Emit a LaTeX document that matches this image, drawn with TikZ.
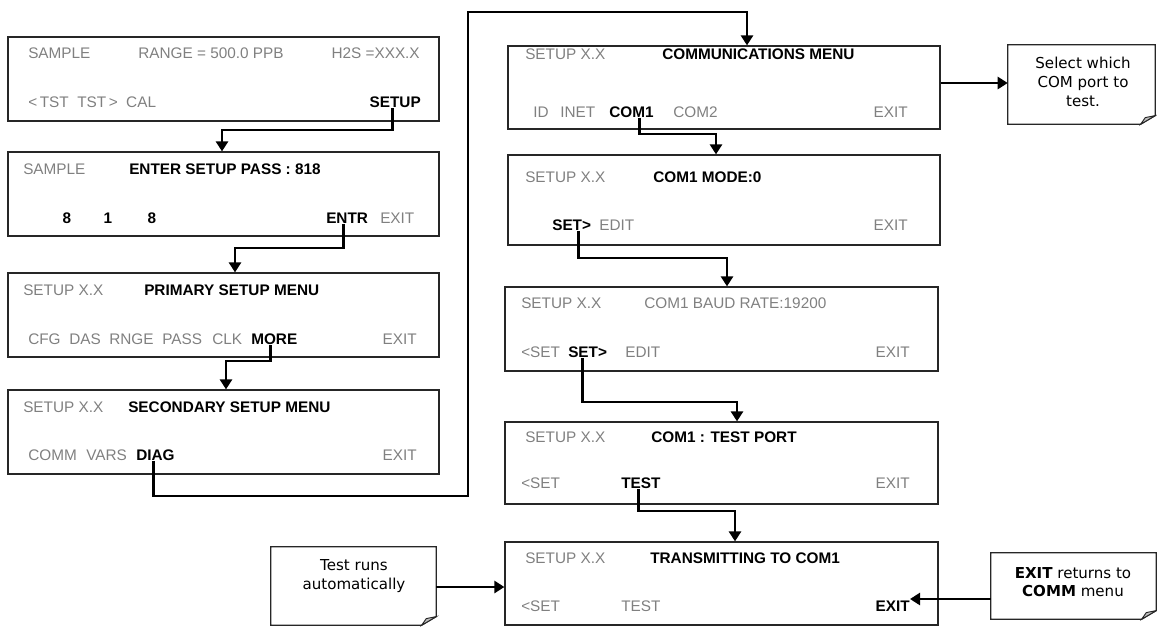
\documentclass[tikz,border=0pt]{standalone}
\usepackage{fontspec}
\setmainfont{Liberation Sans}
\newfontfamily\calloutfont{DejaVu Sans}
\usetikzlibrary{arrows.meta,fit}
\definecolor{txtgray}{RGB}{128,128,128}
\definecolor{foldgray}{RGB}{190,190,190}
\begin{document}
\begin{tikzpicture}[x=0.75pt,y=-0.75pt,
  box/.style={draw=black!85,line width=0.9pt,inner sep=0pt},
  gt/.style={text=txtgray,inner sep=0pt,font=\fontsize{11.5}{13}\selectfont},
  bt/.style={text=black,inner sep=0pt,font=\fontsize{11.5}{13}\selectfont\bfseries},
  conn/.style={line width=2.2pt,-{Triangle[length=7.5pt,width=9pt]}},
  callbox/.style={inner sep=0pt},
  ctext/.style={align=center,inner sep=0pt,font=\calloutfont\fontsize{11.3}{14}\selectfont},
  calloutline/.style={draw=black!85,line width=0.9pt,fill=white},
  fold/.style={draw=black!85,line width=0.7pt,fill=foldgray}
]
\useasboundingbox (0,0) rectangle (1157,626);

% ---------- left column boxes ----------
\node[box,fit={(8,37)(439,121)}] (b1) {};
\node[box,fit={(8,152)(439,236)}] (b2) {};
\node[box,fit={(8,273)(439,357)}] (b3) {};
\node[box,fit={(8,390)(439,474)}] (b4) {};

% ---------- right column boxes ----------
\node[box,fit={(508,46)(940,129)}] (b5) {};
\node[box,fit={(508,155)(940,245)}] (b6) {};
\node[box,fit={(505,287)(938,371)}] (b7) {};
\node[box,fit={(505,422)(938,504)}] (b8) {};
\node[box,fit={(505,542)(938,625)}] (b9) {};

% ---------- box 1 ----------
\node[gt,anchor=base west] (t1a) at (28,58.5) {SAMPLE};
\node[gt,anchor=base west] (t1b) at (138,58.5) {RANGE = 500.0 PPB};
\node[gt,anchor=base east] (t1c) at (420,58.5) {H2S =XXX.X};
\node[gt,anchor=base west] (t1d) at (28,107.5) {<\,TST\ \ TST\,>\ \ CAL};
\node[bt,anchor=base east] (t1setup) at (421,107.5) {SETUP};

% ---------- box 2 ----------
\node[gt,anchor=base west] (t2a) at (23,174.5) {SAMPLE};
\node[bt,anchor=base west] (t2b) at (129,174.5) {ENTER SETUP PASS : 818};
\node[bt,anchor=base] (t2c) at (67,223.5) {8};
\node[bt,anchor=base] (t2d) at (108,223.5) {1};
\node[bt,anchor=base] (t2e) at (152,223.5) {8};
\node[bt,anchor=base west] (t2entr) at (326,223.5) {ENTR};
\node[gt,anchor=base west] (t2exit) at (380,223.5) {EXIT};

% ---------- box 3 ----------
\node[gt,anchor=base west] (t3a) at (23,295.5) {SETUP X.X};
\node[bt,anchor=base west] (t3b) at (144,295.5) {PRIMARY SETUP MENU};
\node[gt,anchor=base west] (t3c) at (28,344.5) {CFG};
\node[gt,anchor=base west] (t3d) at (69,344.5) {DAS};
\node[gt,anchor=base west] (t3e) at (109,344.5) {RNGE};
\node[gt,anchor=base west] (t3f) at (162,344.5) {PASS};
\node[gt,anchor=base west] (t3g) at (212,344.5) {CLK};
\node[bt,anchor=base west] (t3more) at (251,344.5) {MORE};
\node[gt,anchor=base east] (t3exit) at (417,344.5) {EXIT};

% ---------- box 4 ----------
\node[gt,anchor=base west] (t4a) at (23,412.5) {SETUP X.X};
\node[bt,anchor=base west] (t4b) at (128,412.5) {SECONDARY SETUP MENU};
\node[gt,anchor=base west] (t4c) at (28,460.5) {COMM};
\node[gt,anchor=base west] (t4d) at (86,460.5) {VARS};
\node[bt,anchor=base west] (t4diag) at (136,460.5) {DIAG};
\node[gt,anchor=base east] (t4exit) at (417,460.5) {EXIT};

% ---------- box 5 (communications) ----------
\node[gt,anchor=base west] (t5a) at (525,59.5) {SETUP X.X};
\node[bt,anchor=base west] (t5b) at (662,59.5) {COMMUNICATIONS MENU};
\node[gt,anchor=base west] (t5c) at (533,117.5) {ID};
\node[gt,anchor=base west] (t5d) at (560,117.5) {INET};
\node[bt,anchor=base west] (t5com) at (609,117.5) {COM1};
\node[gt,anchor=base west] (t5e) at (673,117.5) {COM2};
\node[gt,anchor=base east] (t5exit) at (908,117.5) {EXIT};

% ---------- box 6 (mode) ----------
\node[gt,anchor=base west] (t6a) at (525,182.5) {SETUP X.X};
\node[bt,anchor=base west] (t6b) at (653,182.5) {COM1 MODE:0};
\node[bt,anchor=base west] (t6set) at (552,230.5) {SET>};
\node[gt,anchor=base west] (t6c) at (599,230.5) {EDIT};
\node[gt,anchor=base east] (t6exit) at (908,230.5) {EXIT};

% ---------- box 7 (baud) ----------
\node[gt,anchor=base west] (t7a) at (521,308.5) {SETUP X.X};
\node[gt,anchor=base west] (t7b) at (644,308.5) {COM1 BAUD RATE:19200};
\node[gt,anchor=base west] (t7c) at (521,357.5) {<SET};
\node[bt,anchor=base west] (t7set) at (568,357.5) {SET>};
\node[gt,anchor=base west] (t7d) at (625,357.5) {EDIT};
\node[gt,anchor=base east] (t7exit) at (910,357.5) {EXIT};

% ---------- box 8 (test port) ----------
\node[gt,anchor=base west] (t8a) at (525,442.5) {SETUP X.X};
\node[bt,anchor=base west] (t8b) at (651,442.5) {COM1 : TEST PORT};
\node[gt,anchor=base west] (t8c) at (521,488.5) {<SET};
\node[bt,anchor=base west] (t8test) at (621,488.5) {TEST};
\node[gt,anchor=base east] (t8exit) at (910,488.5) {EXIT};

% ---------- box 9 (transmitting) ----------
\node[gt,anchor=base west] (t9a) at (525,563.5) {SETUP X.X};
\node[bt,anchor=base west] (t9b) at (650,563.5) {TRANSMITTING TO COM1};
\node[gt,anchor=base west] (t9c) at (521,611.5) {<SET};
\node[gt,anchor=base west] (t9d) at (621,611.5) {TEST};
\node[bt,anchor=base east] (t9exit) at (910,611.5) {EXIT};

% ---------- callouts ----------
\node[callbox,fit={(1008,45)(1155,124)}] (sel) {};
\node[callbox,fit={(271,547)(436,625)}] (tc) {};
\node[callbox,fit={(991,553)(1156,619)}] (ec) {};
\foreach \c in {sel,tc,ec}{
  \draw[calloutline] (\c.north west) -- (\c.north east) -- ([yshift=6.5pt]\c.south east)
     -- ([xshift=-11pt]\c.south east) -- (\c.south west) -- cycle;
  \draw[fold] ([xshift=-11pt]\c.south east) -- ([xshift=-7.5pt,yshift=5pt]\c.south east)
     -- ([yshift=6.5pt]\c.south east) -- cycle;
}
\node[ctext] (seltext) at (1083,82) {Select which\\COM port to\\test.};
\node[ctext] (tctext) at (354,576) {Test runs\\automatically};
\node[ctext] (ectext) at (1073,582) {\textbf{EXIT} returns to\\\textbf{COMM} menu};

% ---------- connectors ----------
\coordinate (k1) at (222,130);
\coordinate (k2) at (235,248);
\coordinate (k3) at (226,361);
\coordinate (d1) at (468,496);
\coordinate (d2) at (747,12);
\coordinate (k5) at (716,134);
\coordinate (k6) at (727,258);
\coordinate (k7) at (737,402);
\coordinate (k8) at (735,511);

\draw[conn] ([xshift=-2pt]t1setup.south) |- (k1) -- (k1 |- b2.north);
\draw[conn] ([xshift=-3pt]t2entr.south) |- (k2) -- (k2 |- b3.north);
\draw[conn] ([xshift=-3pt]t3more.south) |- (k3) -- (k3 |- b4.north);
\draw[conn] ([xshift=-1.5pt]t4diag.south) |- (d1) |- (d2) -- (d2 |- b5.north);
\draw[conn] ([xshift=6pt]t5com.south) |- (k5) -- (k5 |- b6.north);
\draw[conn] ([xshift=5pt]t6set.south) |- (k6) -- (k6 |- b7.north);
\draw[conn] ([xshift=-4pt]t7set.south) |- (k7) -- (k7 |- b8.north);
\draw[conn] ([xshift=-1.5pt]t8test.south) |- (k8) -- (k8 |- b9.north);

\draw[conn] (b5.east |- 0,83) -- (sel.west |- 0,83);
\draw[conn] (tc.east |- 0,587) -- (b9.west |- 0,587);
\draw[conn] (ec.west |- 0,599) -- (t9exit.east |- 0,599);
\end{tikzpicture}
\end{document}
